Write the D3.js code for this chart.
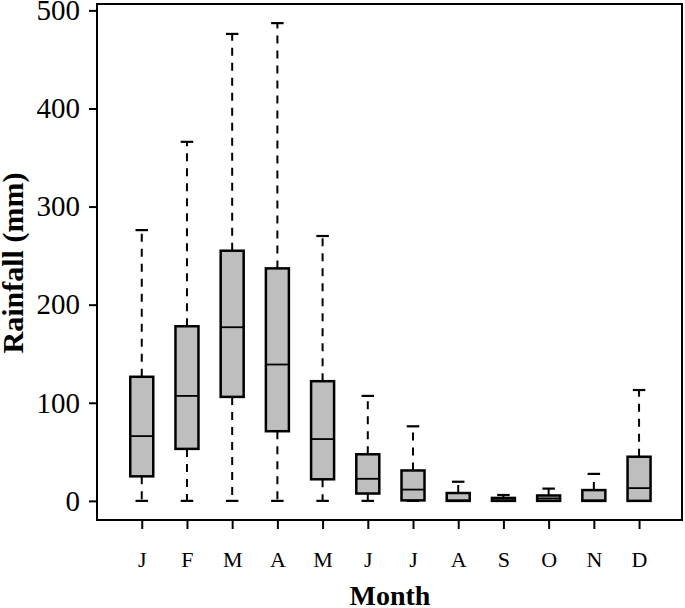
<!DOCTYPE html>
<html>
<head>
<meta charset="utf-8">
<script src="https://cdn.jsdelivr.net/npm/d3@7"></script>
<style>
  html, body { margin: 0; padding: 0; background: #fff; }
  text { font-family: "Liberation Serif", "DejaVu Serif", serif; }
</style>
</head>
<body>
<svg id="chart" width="685" height="608"></svg>
<script>
// ---- Data ----
const months     = ["J","F","M","A","M","J","J","A","S","O","N","D"];
const whiskerLow = [0, 0, 0, 0, 0, 0, 0, 0, 0, 0, 0, 0];
const q1         = [25, 53, 106, 71, 22, 7.5, 0.5, 0, 0, 0, 0, 0];
const medians    = [66, 107, 177, 139, 63, 22.5, 11.5, 0.5, 0.5, 2.5, 0.5, 13];
const q3         = [126.5, 178, 255, 237, 122, 47.5, 31, 8, 3, 5.5, 11, 45];
const whiskerHigh= [276, 366, 476, 487, 270, 107, 76, 19.5, 6, 12.5, 27.5, 113];
const yTicks     = [0, 100, 200, 300, 400, 500];

const svg = d3.select("#chart");
const frame = {left: 97, right: 682, top: 4, bottom: 520};

const x = d3.scaleLinear().domain([0.01, 12.95]).range([frame.left, frame.right]);
const y = d3.scaleLinear().domain([-19.5, 506.5]).range([frame.bottom, frame.top]);

const boxW = 23, capW = 12.5;

const data = months.map((m, i) => ({
  m, i: i + 1, lo: whiskerLow[i], q1: q1[i], med: medians[i], q3: q3[i], hi: whiskerHigh[i]
}));

const g = svg.append("g");
const boxes = g.selectAll("g.box").data(data).join("g").attr("class", "box");

// whiskers (dashed)
boxes.append("line")
  .attr("x1", d => x(d.i)).attr("x2", d => x(d.i))
  .attr("y1", d => y(d.q3)).attr("y2", d => y(d.hi))
  .attr("stroke", "#000").attr("stroke-width", 2).attr("stroke-dasharray", "8,7");
boxes.append("line")
  .attr("x1", d => x(d.i)).attr("x2", d => x(d.i))
  .attr("y1", d => y(d.q1)).attr("y2", d => y(d.lo))
  .attr("stroke", "#000").attr("stroke-width", 2).attr("stroke-dasharray", "8,7");
// caps
boxes.append("line")
  .attr("x1", d => x(d.i) - capW / 2).attr("x2", d => x(d.i) + capW / 2)
  .attr("y1", d => y(d.hi)).attr("y2", d => y(d.hi))
  .attr("stroke", "#000").attr("stroke-width", 2.2);
boxes.append("line")
  .attr("x1", d => x(d.i) - capW / 2).attr("x2", d => x(d.i) + capW / 2)
  .attr("y1", d => y(d.lo)).attr("y2", d => y(d.lo))
  .attr("stroke", "#000").attr("stroke-width", 2.2);
// box
boxes.append("rect")
  .attr("x", d => x(d.i) - boxW / 2).attr("width", boxW)
  .attr("y", d => y(d.q3)).attr("height", d => Math.max(0, y(d.q1) - y(d.q3)))
  .attr("fill", "#bebebe").attr("stroke", "#000").attr("stroke-width", 2.5);
// median
boxes.append("line")
  .attr("x1", d => x(d.i) - boxW / 2).attr("x2", d => x(d.i) + boxW / 2)
  .attr("y1", d => y(d.med)).attr("y2", d => y(d.med))
  .attr("stroke", "#000").attr("stroke-width", 1.8);

// frame
svg.append("rect")
  .attr("x", frame.left).attr("y", frame.top)
  .attr("width", frame.right - frame.left).attr("height", frame.bottom - frame.top)
  .attr("fill", "none").attr("stroke", "#000").attr("stroke-width", 2);

// y axis
const yAxis = d3.axisLeft(y).tickValues(yTicks).tickSize(8).tickPadding(9).tickFormat(d3.format("d"));
const ya = svg.append("g").attr("transform", `translate(${frame.left},0)`).call(yAxis);
ya.select(".domain").remove();
ya.selectAll(".tick line").attr("stroke", "#000").attr("stroke-width", 2);
ya.selectAll(".tick text").attr("font-size", 29).attr("fill", "#000")
  .attr("font-family", "Liberation Serif");

// x axis
const xAxis = d3.axisBottom(x).tickValues(d3.range(1, 13)).tickSize(9).tickPadding(22)
  .tickFormat(d => months[d - 1]);
const xa = svg.append("g").attr("transform", `translate(0,${frame.bottom})`).call(xAxis);
xa.select(".domain").remove();
xa.selectAll(".tick line").attr("stroke", "#000").attr("stroke-width", 2);
xa.selectAll(".tick text").attr("font-size", 22).attr("fill", "#000")
  .attr("font-family", "Liberation Serif");

// titles
svg.append("text")
  .attr("x", 390).attr("y", 605)
  .attr("text-anchor", "middle").attr("font-size", 28).attr("font-weight", "bold")
  .text("Month");
svg.append("text")
  .attr("transform", "translate(23,263) rotate(-90)")
  .attr("text-anchor", "middle").attr("font-size", 30).attr("font-weight", "bold")
  .text("Rainfall (mm)");
</script>
</body>
</html>
